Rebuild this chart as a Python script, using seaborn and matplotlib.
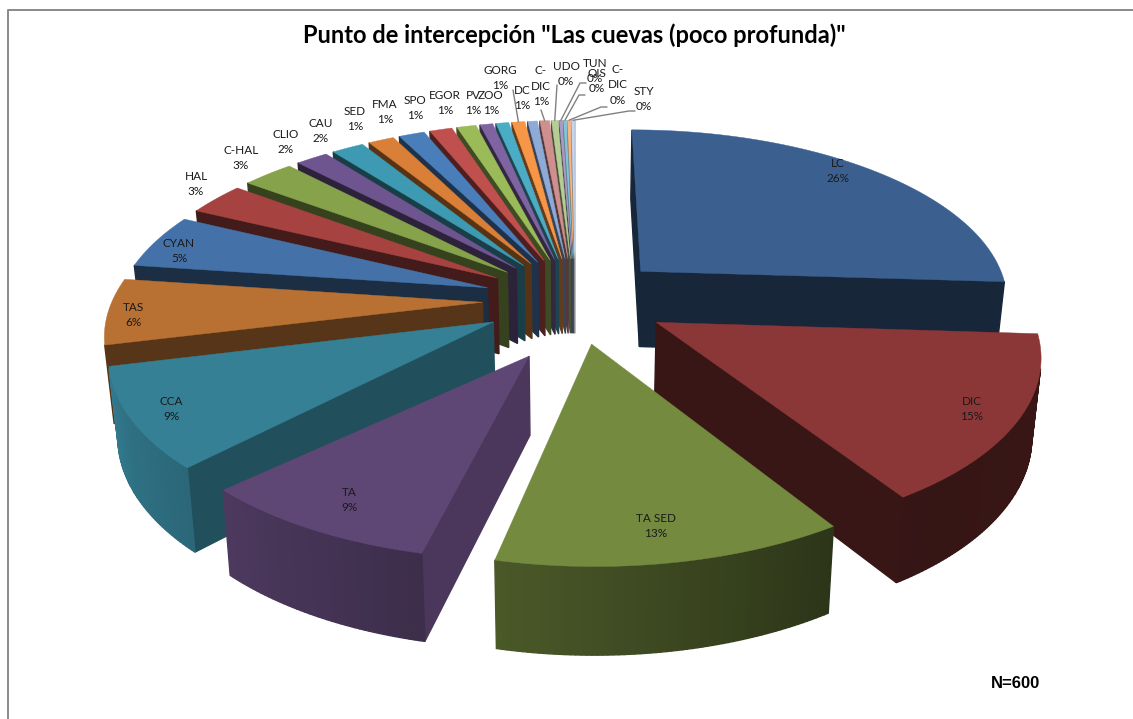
import numpy as np
import pandas as pd
import matplotlib
matplotlib.use("Agg")
import matplotlib.pyplot as plt
import seaborn as sns

# Cover counts per category, N = 600 intercept points
categories = ["LC", "DIC", "TA SED", "TA", "CCA", "TAS", "CYAN", "HAL", "C-HAL", "CLIO", "CAU",
              "SED", "FMA", "SPO", "EGOR", "PV", "ZOO", "GORG", "DC", "C-\nDIC", "UDO",
              "TUN", "OIS", "C-\nDIC", "STY"]
counts = [156, 90, 75, 52, 54, 36, 30, 18, 16, 10, 10,
          8, 8, 7, 6, 4, 4, 4, 3, 3, 2,
          1, 1, 1, 1]
slice_colors = ["#3b6090", "#8c3737", "#748a3f", "#5f4775", "#358095", "#b87033", "#4472a8",
                "#a64341", "#86a24b", "#6f5590", "#3e9ab2", "#d97f37", "#4a7ebb", "#c0504d",
                "#9bbb59", "#8064a2", "#4bacc6", "#f79646", "#8eaad6", "#cf8f8f", "#b6cd94",
                "#a89ac4", "#7fc4d8", "#f9b47f", "#c6d5ea"]
# Label centres on the canvas, in pixels
label_x = [838, 972, 656, 349, 171, 133, 179, 196, 241, 286, 321,
           355, 385, 415, 445, 473, 491, 500, 522, 541, 566, 595, 597, 618, 644]
label_y = [171, 409, 526, 500, 409, 315, 251, 184, 158, 142, 131,
           119, 112, 108, 103, 103, 103, 78, 98, 86, 74, 71, 81, 85, 99]
# Leader line anchors next to the outside labels: (x, y, has a short horizontal elbow)
leader_from = {17: (513, 90, False), 19: (541, 110, False), 20: (557, 85, False),
               21: (586, 83, True), 22: (585, 95, True), 23: (607, 107, True), 24: (635, 111, True)}

title_text = 'Punto de intercepción "Las cuevas (poco profunda)"'
note_text = "N=600"

# Projection of the pie plane onto the canvas
CX, CY = 575.0, 300.0
SCALE_X, SCALE_Y = 370.0, 172.0
TILT = 0.157
EXPLODE = 0.25
# TA's inner tip sits a little nearer the viewer than its explosion alone gives
APEX_SHIFT = {"TA": -0.09}


def project(x, y):
    w = 1 + TILT * y
    return CX + SCALE_X * x / w, CY - SCALE_Y * y / w


def extrude(x, y):
    # Underside of the slab: same plane point, pushed down and slightly inward
    sx, sy = project(x, y)
    w = 1 + TILT * y
    return CX + (sx - CX) * 0.98, sy + 26.5 + 50.0 / w


def shade(color, factor):
    r, g, b = matplotlib.colors.to_rgb(color)
    return (r * factor, g * factor, b * factor)


def rim_factor(theta):
    return np.interp(theta, [90, 147, 192, 223, 256, 360], [0.42, 0.38, 0.64, 0.80, 0.95, 1.0])


def side_factor(theta):
    return np.interp(theta % 360, [90, 102, 133, 183, 360], [0.78, 0.78, 0.62, 0.40, 0.40])


df = pd.DataFrame({"category": categories, "count": counts, "color": slice_colors,
                   "lx": label_x, "ly": label_y})
df["share"] = df["count"] / df["count"].sum()
df["end"] = df["share"].cumsum() * 360
df["start"] = df["end"] - df["share"] * 360
df["mid"] = (df["start"] + df["end"]) / 2
df["percent"] = np.floor(df["share"] * 100 + 0.5).astype(int)

sns.set_theme(style="white")
plt.rcParams["font.family"] = ["Lato", "DejaVu Sans"]

fig = plt.figure(figsize=(11.33, 7.19), dpi=100)
ax = fig.add_axes([0, 0, 1, 1])
ax.set_xlim(0, 1133)
ax.set_ylim(719, 0)
ax.axis("off")

# Chart frame
ax.plot([7.5, 7.5, 1133], [719, 9.5, 9.5], color="#8a8a8a", lw=1.4, zorder=1)

# Farthest slices are painted first so nearer ones cover them
order = df.assign(depth=np.cos(np.radians(df["mid"]))).sort_values("depth", ascending=False)
z = 2
for idx, row in order.iterrows():
    mid = np.radians(row["mid"])
    ax0, ay0 = EXPLODE * np.sin(mid), EXPLODE * np.cos(mid)
    steps = max(3, int((row["end"] - row["start"]) * 1.5))
    thetas = np.linspace(row["start"], row["end"], steps)
    rx = ax0 + np.sin(np.radians(thetas))
    ry = ay0 + np.cos(np.radians(thetas))
    px = np.r_[ax0, rx]
    py = np.r_[ay0 + APEX_SHIFT.get(row["category"], 0.0), ry]
    tx, ty = project(px, py)
    bx, by = extrude(px, py)
    n = len(px)
    for i in range(n):
        j = (i + 1) % n
        quad = np.array([(tx[i], ty[i]), (tx[j], ty[j]), (bx[j], by[j]), (bx[i], by[i])])
        xs, ys = quad[:, 0], quad[:, 1]
        area = np.sum(xs * np.roll(ys, -1) - np.roll(xs, -1) * ys)
        if area >= 0:
            continue
        if i == 0:
            factor = side_factor(row["start"] - 90)
        elif j == 0:
            factor = side_factor(row["end"] + 90)
        else:
            factor = rim_factor((thetas[i - 1] + thetas[j - 1]) / 2)
        c = shade(row["color"], factor)
        ax.fill(xs, ys, facecolor=c, edgecolor=c, lw=1.0, zorder=z)
    ax.fill(tx, ty, facecolor=row["color"], edgecolor=row["color"], lw=0.3, zorder=z + 0.5)
    z += 1

# Leader lines run from the outside labels to the rim of their slices
for idx, (sx, sy, elbow) in leader_from.items():
    row = df.iloc[idx]
    mid = np.radians(row["mid"])
    ax0, ay0 = EXPLODE * np.sin(mid), EXPLODE * np.cos(mid)
    ex, ey = project(ax0 + np.sin(mid), ay0 + np.cos(mid))
    xs = [sx, sx - 6, ex] if elbow else [sx, ex]
    ys = [sy, sy, ey] if elbow else [sy, ey]
    ax.plot(xs, ys, color="#808080", lw=1.0, zorder=z)
z += 1

for _, row in df.iterrows():
    ax.text(row["lx"], row["ly"], f'{row["category"]}\n{row["percent"]}%', ha="center", va="center",
            fontsize=8.5, color="#1a1a1a", linespacing=1.45, zorder=z)

ax.text(574, 35, title_text, ha="center", va="center", fontsize=17, fontweight="bold", color="black")
ax.text(1016, 683, note_text, ha="center", va="center", fontsize=12, fontweight="bold",
        family="Liberation Sans", color="black")

fig.savefig("out.png", dpi=100)
